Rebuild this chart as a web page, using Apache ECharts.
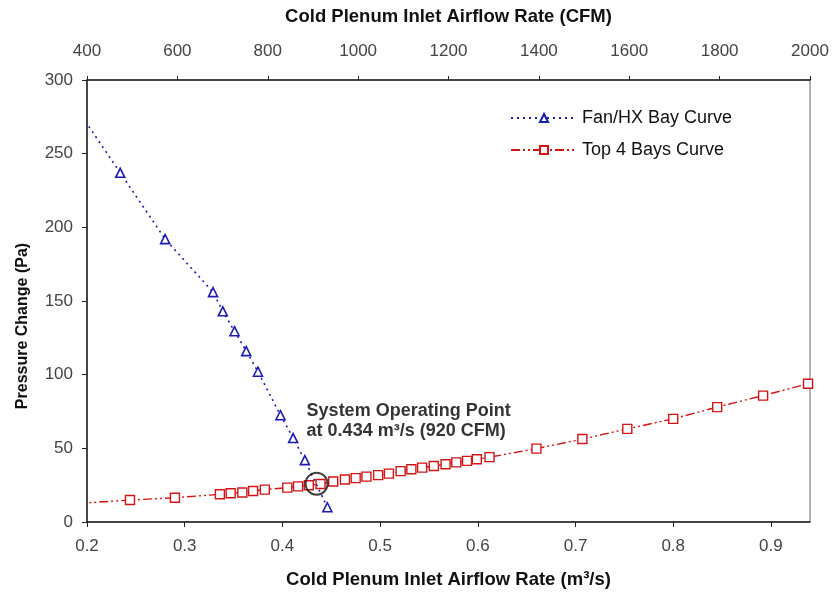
<!DOCTYPE html>
<html lang="en">

<head>
    <meta charset="UTF-8">
    <title>Fan/HX vs Top 4 Bays</title>
    <script src="https://cdn.jsdelivr.net/npm/echarts@6.0.0/dist/echarts.min.js"></script>
    <style>
        body { margin: 0; background: #fff; }
    </style>
</head>

<body>
    <div id="chart" style="width: 832px; height: 594px;"></div>
    <script type="text/javascript">
        // Fan/HX bay curve (m3/s, Pa)
        const fanFlow = [0.188, 0.234, 0.280, 0.329, 0.339, 0.351, 0.363, 0.375, 0.398, 0.411, 0.423, 0.446];
        const fanPressure = [282, 237, 192, 156, 143, 129.5, 116, 102, 72.5, 57, 42, 10];

        // Top 4 bays curve (m3/s, Pa)
        const bayFlow = [0.19, 0.244, 0.290, 0.336, 0.347, 0.359, 0.370, 0.382, 0.405, 0.416, 0.427, 0.439,
            0.452, 0.464, 0.475, 0.486, 0.498, 0.509, 0.521, 0.532, 0.543, 0.555, 0.567, 0.578, 0.589, 0.599,
            0.612, 0.660, 0.707, 0.753, 0.800, 0.845, 0.892, 0.938];
        const bayPressure = [12.6, 14.9, 16.5, 18.8, 19.5, 20.0, 21.0, 22.0, 23.3, 24.2, 24.9, 25.8,
            27.5, 28.8, 29.8, 30.8, 31.8, 32.8, 34.5, 35.8, 36.9, 38.0, 39.2, 40.5, 41.5, 42.6,
            44.0, 49.8, 56.3, 63.2, 70.0, 78.0, 85.8, 93.8];

        // Operating point (circled)
        const opPoint = [0.435, 26];
        const opLabel = 'System Operating Point\nat 0.434 m³/s (920 CFM)';

        const FONT = 'Liberation Sans, Arial, sans-serif';
        const chart = echarts.init(document.getElementById('chart'));

        const zip = (xs, ys) => xs.map((x, i) => [x, ys[i]]);

        chart.setOption({
            animation: false,
            backgroundColor: '#fff',
            grid: { left: 87, right: 22, top: 80, bottom: 72, show: true, borderColor: '#666', borderWidth: 1 },
            legend: {
                left: 505, top: 104, orient: 'vertical', itemGap: 14,
                itemWidth: 66, itemHeight: 10,
                textStyle: { fontFamily: FONT, fontSize: 18, color: '#111' },
                data: ['Fan/HX Bay Curve', 'Top 4 Bays Curve']
            },
            xAxis: [{
                type: 'value', position: 'bottom', min: 0.2, max: 0.94, interval: 0.1,
                name: 'Cold Plenum Inlet Airflow Rate (m³/s)', nameLocation: 'middle', nameGap: 48,
                nameTextStyle: { fontFamily: FONT, fontSize: 18.5, fontWeight: 'bold', color: '#111' },
                axisLine: { lineStyle: { color: '#222', width: 1.5 } },
                axisTick: { length: 5, lineStyle: { color: '#222' } },
                axisLabel: { fontFamily: FONT, fontSize: 17, color: '#444', margin: 16, showMaxLabel: false,
                    formatter: v => v.toFixed(1) },
                splitLine: { show: false }
            }, {
                type: 'value', position: 'top', min: 400, max: 2000, interval: 200,
                name: 'Cold Plenum Inlet Airflow Rate (CFM)', nameLocation: 'middle', nameGap: 54,
                nameTextStyle: { fontFamily: FONT, fontSize: 18.5, fontWeight: 'bold', color: '#111' },
                axisLine: { lineStyle: { color: '#222', width: 1.5 } },
                axisTick: { length: 4, lineStyle: { color: '#222' } },
                axisLabel: { fontFamily: FONT, fontSize: 17, color: '#444', margin: 20,
                    formatter: v => String(v) },
                splitLine: { show: false }
            }],
            yAxis: {
                type: 'value', min: 0, max: 300, interval: 50,
                axisLine: { show: true, lineStyle: { color: '#222', width: 1.5 } },
                axisTick: { show: true, length: 5, lineStyle: { color: '#222' } },
                axisLabel: { fontFamily: FONT, fontSize: 17, color: '#444', margin: 14 },
                splitLine: { show: false }
            },
            series: [{
                name: 'Fan/HX Bay Curve', type: 'line', xAxisIndex: 0, clip: true,
                data: zip(fanFlow, fanPressure),
                symbol: 'triangle', symbolSize: 9,
                lineStyle: { color: '#1c1cb4', width: 1.6, type: [2, 4] },
                itemStyle: { color: '#fff', borderColor: '#1c1cb4', borderWidth: 1.6 },
                z: 3
            }, {
                name: 'Top 4 Bays Curve', type: 'line', xAxisIndex: 0, clip: true,
                data: zip(bayFlow, bayPressure),
                symbol: 'rect', symbolSize: 9,
                lineStyle: { color: '#d41515', width: 1.4, type: [9, 3, 2, 3, 2, 3] },
                itemStyle: { color: '#fff', borderColor: '#d41515', borderWidth: 1.4 },
                z: 2
            }, {
                name: 'Operating Point', type: 'scatter', xAxisIndex: 0,
                data: [opPoint],
                symbol: 'circle', symbolSize: 22,
                itemStyle: { color: 'rgba(0,0,0,0)', borderColor: '#111', borderWidth: 2 },
                // annotation text sits above-right of the circled point
                label: {
                    show: true, formatter: opLabel, position: [2, -71],
                    fontFamily: FONT, fontSize: 18, fontWeight: 'bold',
                    color: '#000', textBorderWidth: 0, lineHeight: 20, align: 'left', verticalAlign: 'top'
                },
                z: 4
            }],
            graphic: [{
                type: 'text', x: 23, y: 326, rotation: Math.PI / 2,
                style: { text: 'Pressure Change (Pa)', fontFamily: FONT, fontSize: 16, fontWeight: 'bold',
                    fill: '#111', align: 'center', verticalAlign: 'middle' }
            }]
        });
    </script>
</body>

</html>
